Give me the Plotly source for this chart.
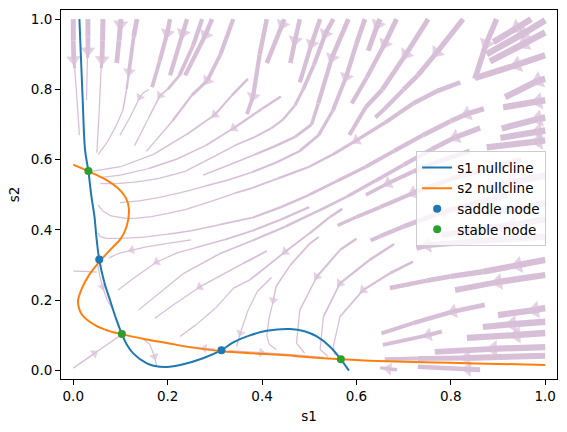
import math
import plotly.graph_objects as go

# ---------------- data ----------------
x_range = [-0.026, 1.025]
y_range = [-0.024, 1.026]
tick_vals = [0.0, 0.2, 0.4, 0.6, 0.8, 1.0]
tick_text = ["0.0", "0.2", "0.4", "0.6", "0.8", "1.0"]

s1_null_s1 = [0.013, 0.016, 0.020, 0.025, 0.032, 0.038, 0.045, 0.049, 0.055, 0.066, 0.078, 0.090,
              0.103, 0.113, 0.127, 0.155, 0.170, 0.198, 0.233, 0.275, 0.314, 0.339, 0.374, 0.410,
              0.459, 0.490, 0.516, 0.544, 0.567, 0.584]
s1_null_s2 = [1.000, 0.900, 0.770, 0.627, 0.568, 0.500, 0.437, 0.380, 0.316, 0.250, 0.200, 0.150,
              0.104, 0.075, 0.049, 0.021, 0.014, 0.010, 0.018, 0.035, 0.058, 0.080, 0.100, 0.113,
              0.118, 0.112, 0.097, 0.068, 0.032, 0.000]

s2_null_s1 = [0.000, 0.032, 0.068, 0.097, 0.112, 0.118, 0.113, 0.100, 0.083, 0.058, 0.035, 0.018,
              0.010, 0.014, 0.021, 0.049, 0.075, 0.104, 0.150, 0.200, 0.250, 0.316, 0.380, 0.437,
              0.500, 0.568, 0.627, 0.700, 0.800, 0.900, 1.000]
s2_null_s2 = [0.586, 0.567, 0.544, 0.516, 0.490, 0.459, 0.410, 0.374, 0.350, 0.314, 0.275, 0.233,
              0.198, 0.170, 0.155, 0.127, 0.113, 0.103, 0.090, 0.078, 0.066, 0.055, 0.049, 0.045,
              0.038, 0.032, 0.028, 0.025, 0.022, 0.019, 0.016]

saddle_s1 = [0.055, 0.314]
saddle_s2 = [0.316, 0.058]
stable_s1 = [0.032, 0.103, 0.567]
stable_s2 = [0.568, 0.104, 0.032]

# streamlines (points in flow order), line width per point, index of the arrow head (-1: none)
stream_s1 = [
    [0.000, 0.000, 0.001, 0.003, 0.008, 0.013],
    [0.031, 0.031, 0.031, 0.030, 0.028],
    [0.063, 0.062, 0.061, 0.059, 0.055, 0.050],
    [0.101, 0.100, 0.097, 0.092],
    [0.135, 0.128, 0.118, 0.113, 0.105, 0.092, 0.072, 0.053],
    [0.205, 0.199, 0.183, 0.167],
    [0.160, 0.148, 0.141, 0.120, 0.099],
    [0.241, 0.232, 0.205],
    [0.273, 0.254, 0.225, 0.200, 0.184, 0.160, 0.130],
    [0.294, 0.280, 0.237],
    [0.339, 0.312, 0.284, 0.251, 0.210, 0.175, 0.155],
    [0.410, 0.395, 0.381, 0.368],
    [0.447, 0.443, 0.410],
    [0.480, 0.470, 0.460],
    [0.523, 0.505, 0.480],
    [0.551, 0.534, 0.510, 0.487, 0.470, 0.445, 0.420, 0.385, 0.343, 0.300, 0.237, 0.180, 0.131, 0.090, 0.057],
    [0.583, 0.548, 0.519, 0.505, 0.470, 0.430, 0.385, 0.330, 0.275],
    [0.618, 0.600, 0.578, 0.550, 0.520, 0.480, 0.430, 0.380, 0.330, 0.280, 0.230, 0.180, 0.140, 0.099],
    [0.650, 0.645, 0.625],
    [0.685, 0.660, 0.622, 0.590],
    [0.752, 0.705, 0.655, 0.620, 0.585],
    [0.826, 0.770, 0.730, 0.700, 0.660, 0.640],
    [0.897, 0.875, 0.851],
    [1.000, 0.955, 0.876],
    [1.000, 0.955, 0.883],
    [0.970, 0.940, 0.890],
    [1.000, 0.940, 0.851],
    [1.000, 0.985, 0.915],
    [1.000, 0.985, 0.911],
    [1.000, 0.985, 0.908],
    [1.000, 0.985, 0.905],
    [1.000, 0.985, 0.876],
    [0.870, 0.834, 0.800, 0.741, 0.680, 0.620, 0.560, 0.500, 0.440, 0.380, 0.310, 0.250, 0.200, 0.150, 0.100, 0.070, 0.057, 0.052],
    [0.862, 0.810, 0.760, 0.700, 0.640, 0.580, 0.520, 0.450, 0.380, 0.311, 0.232, 0.180, 0.138],
    [0.820, 0.770, 0.720, 0.660, 0.600, 0.550, 0.500, 0.434, 0.380, 0.343, 0.300, 0.237, 0.200, 0.166, 0.130, 0.110, 0.080, 0.062, 0.053],
    [1.000, 0.940, 0.876],
    [1.000, 0.870, 0.750, 0.727],
    [1.000, 0.942, 0.868, 0.800, 0.749, 0.671],
    [1.000, 0.900, 0.809],
    [0.872, 0.805, 0.720, 0.653],
    [0.781, 0.752, 0.656],
    [1.000, 0.978, 0.900],
    [1.000, 0.930, 0.868],
    [1.000, 0.939, 0.834],
    [1.000, 0.890, 0.766],
    [1.000, 0.833, 0.730, 0.660],
    [0.862, 0.836, 0.730],
    [0.686, 0.668, 0.650],
    [0.370, 0.336, 0.300, 0.240, 0.170, 0.100, 0.039],
    [0.440, 0.400, 0.340, 0.280, 0.220, 0.160, 0.100, 0.060],
    [0.250, 0.200, 0.155, 0.124, 0.095, 0.075],
    [0.500, 0.440, 0.380, 0.320, 0.260, 0.220, 0.177, 0.130, 0.095],
    [0.410, 0.360, 0.268, 0.210, 0.173],
    [0.570, 0.544, 0.500, 0.449, 0.374, 0.339, 0.304, 0.260, 0.226],
    [0.420, 0.390, 0.370, 0.354, 0.346],
    [0.520, 0.500, 0.460, 0.430, 0.424, 0.415, 0.410, 0.415, 0.430],
    [0.600, 0.565, 0.516, 0.480, 0.473, 0.490],
    [0.680, 0.628, 0.565, 0.530, 0.523, 0.540],
    [0.720, 0.671, 0.614, 0.565, 0.551, 0.555],
    [0.000, 0.045, 0.103],
    [0.148, 0.162, 0.172, 0.177],
    [0.330, 0.399, 0.470, 0.530],
    [0.300, 0.278, 0.240, 0.200, 0.160],
    [0.950, 0.880, 0.800, 0.720, 0.650, 0.600, 0.560],
    [1.000, 0.930, 0.870],
    [0.920, 0.850, 0.780, 0.700, 0.650, 0.630],
    [1.000, 0.930, 0.850, 0.780],
    [0.840, 0.780, 0.720, 0.667, 0.620],
    [0.000, 0.025, 0.050],
    [0.052, 0.056, 0.062, 0.072, 0.085],
]
stream_s2 = [
    [1.000, 0.940, 0.885, 0.860, 0.770, 0.670],
    [1.000, 0.950, 0.910, 0.890, 0.770],
    [1.000, 0.940, 0.885, 0.860, 0.740, 0.620],
    [1.000, 0.985, 0.940, 0.875],
    [1.000, 0.950, 0.850, 0.800, 0.740, 0.700, 0.650, 0.615],
    [1.000, 0.960, 0.880, 0.806],
    [0.800, 0.790, 0.778, 0.720, 0.670],
    [1.000, 0.960, 0.840],
    [1.000, 0.925, 0.840, 0.800, 0.783, 0.720, 0.640],
    [1.000, 0.955, 0.840],
    [1.000, 0.900, 0.825, 0.783, 0.710, 0.655, 0.624],
    [1.000, 0.900, 0.780, 0.730],
    [1.000, 0.985, 0.875],
    [1.000, 0.940, 0.875],
    [1.000, 0.930, 0.820],
    [1.000, 0.958, 0.870, 0.800, 0.755, 0.715, 0.690, 0.665, 0.641, 0.610, 0.567, 0.546, 0.536, 0.532, 0.532],
    [1.000, 0.890, 0.760, 0.700, 0.665, 0.640, 0.615, 0.585, 0.556],
    [1.000, 0.930, 0.835, 0.740, 0.670, 0.625, 0.592, 0.565, 0.543, 0.525, 0.507, 0.492, 0.483, 0.478],
    [1.000, 0.985, 0.910],
    [1.000, 0.930, 0.834, 0.760],
    [1.000, 0.900, 0.800, 0.750, 0.670],
    [1.000, 0.905, 0.840, 0.800, 0.745, 0.720],
    [1.000, 0.930, 0.830],
    [0.997, 0.960, 0.900],
    [0.962, 0.930, 0.880],
    [1.000, 0.975, 0.935],
    [0.897, 0.870, 0.832],
    [0.830, 0.825, 0.778],
    [0.769, 0.766, 0.749],
    [0.720, 0.716, 0.689],
    [0.683, 0.680, 0.662],
    [0.655, 0.652, 0.635],
    [0.745, 0.730, 0.710, 0.670, 0.625, 0.580, 0.540, 0.500, 0.465, 0.435, 0.415, 0.398, 0.388, 0.380, 0.376, 0.376, 0.381, 0.392],
    [0.690, 0.664, 0.630, 0.585, 0.540, 0.495, 0.455, 0.410, 0.370, 0.333, 0.275, 0.218, 0.172],
    [0.820, 0.795, 0.760, 0.705, 0.655, 0.615, 0.580, 0.547, 0.520, 0.505, 0.485, 0.458, 0.447, 0.438, 0.433, 0.433, 0.440, 0.455, 0.471],
    [0.476, 0.460, 0.447],
    [0.381, 0.370, 0.357, 0.348],
    [0.315, 0.300, 0.281, 0.268, 0.256, 0.235],
    [0.272, 0.252, 0.229],
    [0.187, 0.168, 0.135, 0.106],
    [0.111, 0.101, 0.073],
    [0.178, 0.172, 0.158],
    [0.139, 0.132, 0.124],
    [0.107, 0.101, 0.093],
    [0.067, 0.062, 0.053],
    [0.042, 0.036, 0.034, 0.032],
    [0.002, 0.004, 0.011],
    [0.002, 0.005, 0.008],
    [0.830, 0.783, 0.728, 0.672, 0.615, 0.580, 0.567],
    [0.780, 0.745, 0.690, 0.640, 0.602, 0.575, 0.556, 0.550],
    [0.372, 0.362, 0.352, 0.343, 0.333, 0.320],
    [0.465, 0.430, 0.398, 0.372, 0.350, 0.335, 0.309, 0.265, 0.229],
    [0.340, 0.305, 0.238, 0.185, 0.149],
    [0.460, 0.437, 0.390, 0.338, 0.258, 0.234, 0.181, 0.130, 0.097],
    [0.265, 0.225, 0.170, 0.107, 0.068],
    [0.380, 0.360, 0.300, 0.240, 0.200, 0.150, 0.100, 0.075, 0.060],
    [0.375, 0.343, 0.267, 0.172, 0.078, 0.050],
    [0.360, 0.315, 0.248, 0.153, 0.060, 0.040],
    [0.310, 0.277, 0.229, 0.153, 0.068, 0.045],
    [0.007, 0.049, 0.103],
    [0.090, 0.075, 0.040, 0.011],
    [0.057, 0.051, 0.044, 0.037],
    [0.061, 0.063, 0.069, 0.078, 0.088],
    [0.600, 0.575, 0.545, 0.505, 0.465, 0.437, 0.413],
    [0.555, 0.535, 0.515],
    [0.500, 0.475, 0.450, 0.410, 0.382, 0.370],
    [0.430, 0.415, 0.400, 0.385],
    [0.625, 0.598, 0.566, 0.533, 0.500],
    [0.283, 0.282, 0.280],
    [0.300, 0.270, 0.239, 0.200, 0.172],
]
stream_w = [
    [5.0, 5.0, 4.5, 1.5, 1.2, 1.2],
    [5.0, 5.0, 4.5, 1.5, 1.2],
    [5.0, 5.0, 4.5, 1.5, 1.2, 1.2],
    [5.0, 5.0, 5.0, 4.5],
    [5.0, 4.5, 3.0, 1.5, 1.3, 1.2, 1.2, 1.2],
    [4.5, 4.5, 4.0, 3.5],
    [1.4, 1.3, 1.2, 1.2, 1.2],
    [4.5, 4.5, 4.0],
    [4.5, 4.2, 3.5, 2.0, 1.6, 1.3, 1.2],
    [4.5, 4.5, 4.0],
    [4.5, 4.2, 3.5, 2.6, 1.8, 1.3, 1.2],
    [4.5, 4.3, 4.0, 3.6],
    [4.5, 4.5, 4.3],
    [4.5, 4.5, 4.5],
    [4.6, 4.4, 4.0],
    [4.7, 4.5, 4.0, 3.4, 2.8, 2.4, 2.1, 1.9, 1.7, 1.5, 1.3, 1.2, 1.2, 1.2, 1.2],
    [4.8, 4.5, 3.8, 3.2, 2.7, 2.3, 2.0, 1.7, 1.4],
    [5.0, 4.7, 4.3, 3.6, 3.0, 2.5, 2.1, 1.8, 1.5, 1.3, 1.2, 1.2, 1.2, 1.2],
    [5.0, 5.0, 5.0],
    [5.0, 4.8, 4.4, 4.0],
    [5.2, 5.0, 4.6, 4.2, 3.7],
    [5.5, 5.2, 4.8, 4.5, 4.1, 3.9],
    [5.5, 5.5, 5.5],
    [6.5, 6.5, 6.5],
    [6.5, 6.5, 6.5],
    [6.3, 6.3, 6.3],
    [6.5, 6.2, 5.8],
    [6.5, 6.5, 6.0],
    [6.5, 6.5, 6.0],
    [6.5, 6.5, 6.0],
    [6.5, 6.5, 6.0],
    [6.5, 6.5, 5.8],
    [5.5, 5.2, 5.0, 4.5, 4.0, 3.5, 3.0, 2.6, 2.3, 2.0, 1.7, 1.5, 1.3, 1.2, 1.2, 1.2, 1.2, 1.2],
    [5.5, 5.0, 4.6, 4.0, 3.5, 3.0, 2.6, 2.2, 1.8, 1.5, 1.3, 1.2, 1.2],
    [5.0, 4.6, 4.2, 3.7, 3.2, 2.8, 2.4, 2.1, 1.9, 1.7, 1.5, 1.4, 1.3, 1.2, 1.2, 1.2, 1.2, 1.2, 1.2],
    [6.5, 6.3, 6.0],
    [6.5, 6.0, 5.5, 5.0],
    [6.5, 6.2, 5.8, 5.3, 4.8, 4.2],
    [6.5, 6.0, 5.5],
    [5.0, 4.6, 4.2, 3.8],
    [4.5, 4.0, 3.6],
    [6.5, 6.5, 6.0],
    [6.5, 6.3, 6.0],
    [6.5, 6.3, 6.0],
    [6.5, 6.0, 5.5],
    [6.5, 5.5, 4.5, 3.5],
    [5.0, 4.8, 4.2],
    [3.5, 3.3, 3.0],
    [2.6, 2.2, 1.9, 1.5, 1.3, 1.2, 1.2],
    [2.6, 2.3, 2.0, 1.7, 1.5, 1.3, 1.2, 1.2],
    [1.3, 1.2, 1.2, 1.2, 1.2, 1.2],
    [2.4, 2.1, 1.8, 1.6, 1.4, 1.3, 1.2, 1.2, 1.2],
    [1.8, 1.6, 1.3, 1.2, 1.2],
    [2.6, 2.4, 2.1, 1.8, 1.5, 1.4, 1.3, 1.2, 1.2],
    [1.6, 1.4, 1.3, 1.2, 1.2],
    [2.2, 2.0, 1.7, 1.5, 1.4, 1.3, 1.2, 1.2, 1.2],
    [2.6, 2.3, 1.8, 1.4, 1.2, 1.2],
    [2.8, 2.4, 1.9, 1.4, 1.2, 1.2],
    [3.0, 2.6, 2.0, 1.5, 1.2, 1.2],
    [1.5, 1.3, 1.2],
    [1.2, 1.2, 1.2, 1.2],
    [1.3, 1.4, 1.5, 1.6],
    [1.2, 1.2, 1.2, 1.2, 1.2],
    [6.0, 5.6, 5.1, 4.5, 3.9, 3.5, 3.2],
    [6.5, 6.3, 6.0],
    [6.0, 5.6, 5.1, 4.5, 4.0, 3.8],
    [6.5, 6.2, 5.8, 5.4],
    [5.0, 4.6, 4.2, 3.8, 3.4],
    [1.2, 1.2, 1.2],
    [1.2, 1.2, 1.2, 1.2, 1.2],
]
stream_arrow = [2, 2, 2, 1, 2, 1, 2, 1, 4, 1, 2, 2, 1, 1, 1, 1, 1, 2, 1, 1, 1, 1, 1, 1, 1, 1, 1,
                1, 1, 1, 1, 1, 1, 1, 4, 1, 2, 1, 1, 1, 1, 1, 1, 1, 1, 1, 1, 1,
                2, 2, 3, 6, 2, 3, 3, 4, 2, 2, 2, 1, 2, 1, 1, 3, 1, 2, 1, 3, -1, 2]

# ---------------- styling ----------------
STREAM_COLOR = "#D8BFD8"
BLUE = "#1f77b4"
ORANGE = "#ff7f0e"
GREEN = "#2ca02c"
FONT = "DejaVu Sans"

W, H = 567, 432
M_L, M_R, M_T, M_B = 61, 10, 10, 53
plot_w = W - M_L - M_R
plot_h = H - M_T - M_B
kx = plot_w / (x_range[1] - x_range[0])
ky = plot_h / (y_range[1] - y_range[0])

fig = go.Figure()

# variable-width streamline segments, grouped by width
buckets = {}
for xs, ys, ws in zip(stream_s1, stream_s2, stream_w):
    for i in range(len(xs) - 1):
        wseg = round(((ws[i] + ws[i + 1]) / 2) * 4) / 4
        bx, by = buckets.setdefault(wseg, ([], []))
        bx += [xs[i], xs[i + 1], None]
        by += [ys[i], ys[i + 1], None]
for wseg in sorted(buckets):
    bx, by = buckets[wseg]
    fig.add_trace(go.Scatter(x=bx, y=by, mode="lines", showlegend=False, hoverinfo="skip",
                             line=dict(color=STREAM_COLOR, width=wseg)))

# arrow heads, oriented along the local direction of each streamline
ax_, ay_, ang, sz = [], [], [], []
for xs, ys, ws, a in zip(stream_s1, stream_s2, stream_w, stream_arrow):
    if a < 0:
        continue
    i0 = max(a - 1, 0)
    i1 = min(a + 1, len(xs) - 1)
    dx = (xs[i1] - xs[i0]) * kx
    dy = (ys[i1] - ys[i0]) * ky
    ax_.append(xs[a])
    ay_.append(ys[a])
    ang.append(math.degrees(math.atan2(dx, dy)))
    sz.append(7 + 1.3 * ws[a])
fig.add_trace(go.Scatter(x=ax_, y=ay_, mode="markers", showlegend=False, hoverinfo="skip",
                         marker=dict(symbol="triangle-up", size=sz, angle=ang,
                                     color=STREAM_COLOR, line=dict(width=0))))

fig.add_trace(go.Scatter(x=s1_null_s1, y=s1_null_s2, mode="lines", name="s1 nullcline",
                         line=dict(color=BLUE, width=2, shape="spline")))
fig.add_trace(go.Scatter(x=s2_null_s1, y=s2_null_s2, mode="lines", name="s2 nullcline",
                         line=dict(color=ORANGE, width=2, shape="spline")))
fig.add_trace(go.Scatter(x=saddle_s1, y=saddle_s2, mode="markers", name="saddle node",
                         marker=dict(color=BLUE, size=8)))
fig.add_trace(go.Scatter(x=stable_s1, y=stable_s2, mode="markers", name="stable node",
                         marker=dict(color=GREEN, size=8)))

axis_common = dict(showgrid=False, zeroline=False, showline=True, linecolor="black", linewidth=1,
                   mirror=True, ticks="outside", ticklen=5, tickwidth=1, tickcolor="black",
                   tickfont=dict(family=FONT, size=13.5, color="black"),
                   tickvals=tick_vals, ticktext=tick_text)
fig.update_layout(
    width=W, height=H,
    margin=dict(l=M_L, r=M_R, t=M_T, b=M_B),
    paper_bgcolor="white", plot_bgcolor="white",
    font=dict(family=FONT, size=13.5, color="black"),
    xaxis=dict(range=x_range, title=dict(text="s1", standoff=8,
                                         font=dict(family=FONT, size=13.5)), **axis_common),
    yaxis=dict(range=y_range, title=dict(text="s2", standoff=8,
                                         font=dict(family=FONT, size=13.5)), **axis_common),
    legend=dict(x=0.716, y=0.617, xanchor="left", yanchor="top",
                bgcolor="rgba(255,255,255,0.8)", bordercolor="#cccccc", borderwidth=1,
                font=dict(family=FONT, size=13.5), itemwidth=30, tracegroupgap=0),
    showlegend=True,
)

fig.write_html("out.html")
